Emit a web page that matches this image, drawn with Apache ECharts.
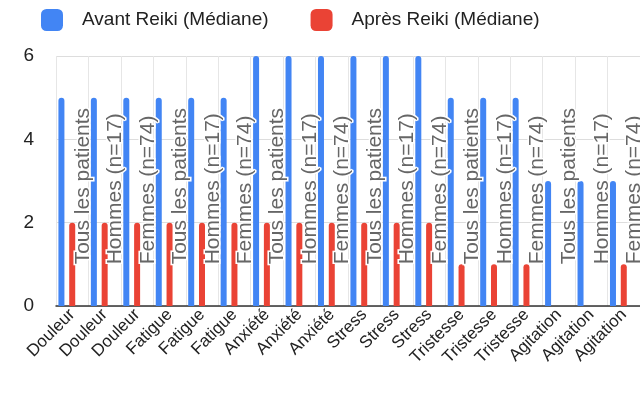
<!DOCTYPE html><html><head><meta charset="utf-8">
<script src="https://cdn.jsdelivr.net/npm/echarts@6/dist/echarts.min.js"></script>
<style>body{margin:0}#c{width:640px;height:406px}</style></head><body><div id="c"></div><script>
const categories=["Douleur","Douleur","Douleur","Fatigue","Fatigue","Fatigue","Anxiété","Anxiété","Anxiété","Stress","Stress","Stress","Tristesse","Tristesse","Tristesse","Agitation","Agitation","Agitation"];
const groups=["Tous les patients","Hommes (n=17)","Femmes (n=74)","Tous les patients","Hommes (n=17)","Femmes (n=74)","Tous les patients","Hommes (n=17)","Femmes (n=74)","Tous les patients","Hommes (n=17)","Femmes (n=74)","Tous les patients","Hommes (n=17)","Femmes (n=74)","Tous les patients","Hommes (n=17)","Femmes (n=74)"];
const avant=[5,5,5,5,5,5,6,6,6,6,6,6,5,5,5,3,3,3];
const apres=[2,2,2,2,2,2,2,2,2,2,2,2,1,1,1,0,0,1];
const labelBase=groups.map(()=>1);
const ch=echarts.init(document.getElementById('c'));
const ff='Arial, Liberation Sans, sans-serif';
ch.setOption({
 textStyle:{fontFamily:ff},
 legend:{data:['Avant Reiki (Médiane)','Après Reiki (Médiane)'],top:4,left:36,itemGap:42,itemWidth:22,itemHeight:22,icon:'roundRect',textStyle:{fontSize:19,color:'#222',padding:[0,0,0,14]}},
 grid:{left:56,right:-1,top:56,bottom:100,containLabel:false},
 xAxis:{type:'category',data:categories,axisTick:{show:false},axisLine:{lineStyle:{color:'#333',width:1.5}},
  axisLabel:{rotate:45,fontSize:17,color:'#222',interval:0,margin:6},splitLine:{show:true,lineStyle:{color:'#e6e6e6'}}},
 yAxis:{type:'value',min:0,max:6,interval:2,axisLabel:{fontSize:19,color:'#222',margin:22},splitLine:{lineStyle:{color:'#ddd'}}},
 series:[
  {name:'Avant Reiki (Médiane)',type:'bar',data:avant,barWidth:6,barGap:'80%',itemStyle:{color:'#4285f4',borderRadius:[3,3,0,0]}},
  {name:'Après Reiki (Médiane)',type:'bar',data:apres,barWidth:6,itemStyle:{color:'#ea4335',borderRadius:[3,3,0,0]}},
  {name:'g',type:'bar',data:labelBase,barWidth:6,itemStyle:{color:'rgba(0,0,0,0)'},silent:true,
   label:{show:true,position:'top',distance:0,rotate:90,align:'left',verticalAlign:'middle',fontSize:21,color:'#666',textBorderColor:'#fff',textBorderWidth:3,
    formatter:p=>groups[p.dataIndex]}}
 ]
});
</script></body></html>
